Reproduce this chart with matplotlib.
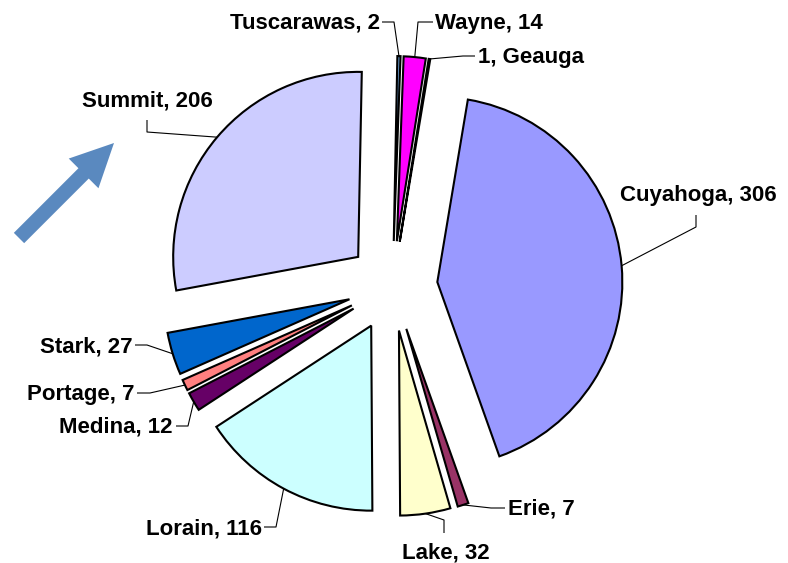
import numpy as np
import matplotlib
matplotlib.use("Agg")
import matplotlib.pyplot as plt
import matplotlib.patches as mpatches

# data (series order as in the sheet, drawn clockwise)
counties = ["Cuyahoga", "Erie", "Lake", "Lorain", "Medina", "Portage",
            "Stark", "Summit", "Tuscarawas", "Wayne", "Geauga"]
counts = [306, 7, 32, 116, 12, 7, 27, 206, 2, 14, 1]
colors = ["#9999FF", "#993366", "#FFFFCC", "#CCFFFF", "#660066", "#FF8080",
          "#0066CC", "#CCCCFF", "#6699CC", "#FF00FF", "#FFFFFF"]
label_text = ["Cuyahoga, 306", "Erie, 7", "Lake, 32", "Lorain, 116", "Medina, 12",
              "Portage, 7", "Stark, 27", "Summit, 206", "Tuscarawas, 2",
              "Wayne, 14", "1, Geauga"]

# label layout in pixel coords (y down): text x, baseline y, ha, leader start, elbow
label_pos = [
    (698, 201, "center", (696, 215), (696, 227)),
    (508, 515, "left", (505, 508), (491, 508)),
    (446, 559, "center", (444, 533), (444, 520)),
    (262, 534, "right", (264, 527), (276, 527)),
    (173, 433, "right", (176, 426), (188, 426)),
    (135, 400, "right", (137, 393), (150, 393)),
    (133, 352, "right", (135, 345), (147, 345)),
    (147, 107, "center", (147, 120), (147, 132)),
    (380, 29, "right", (382, 22), (394, 22)),
    (435, 29, "left", (433, 22), (418, 22)),
    (478, 63, "left", (475, 56), (463, 56)),
]

W, H = 788, 563
fig = plt.figure(figsize=(W / 100, H / 100), dpi=100)
ax = fig.add_axes([0, 0, 1, 1])

pie_center = (392.5, 286)
pie_r = 185
gap = 45
first_angle = 9.5  # degrees clockwise from 12 o'clock

# y axis is flipped, so counterclock=True draws clockwise on screen
wedges, _ = ax.pie(counts, colors=colors, center=pie_center, radius=pie_r,
                   explode=[gap] * len(counts), startangle=-90 + first_angle,
                   counterclock=True,
                   wedgeprops=dict(edgecolor="black", linewidth=1.5))

ax.set_xlim(0, W)
ax.set_ylim(H, 0)
ax.set_aspect("equal")
ax.axis("off")

for w, txt, (tx, ty, ha, start, elbow) in zip(wedges, label_text, label_pos):
    mid = np.deg2rad((w.theta1 + w.theta2) / 2)
    ax_pt = (w.center[0] + w.r * np.cos(mid), w.center[1] + w.r * np.sin(mid))
    ax.plot([start[0], elbow[0], ax_pt[0]], [start[1], elbow[1], ax_pt[1]],
            color="black", lw=0.8, solid_capstyle="butt")
    ax.text(tx, ty, txt, ha=ha, va="baseline", fontsize=16,
            fontweight="bold", family="Liberation Sans")

# blue arrow pointing to Summit
arrow = mpatches.FancyArrow(19, 238, 95, -95, width=14.6, head_width=42,
                            head_length=43, length_includes_head=True,
                            color="#5A89BF", lw=0)
ax.add_patch(arrow)

fig.savefig("out.png", dpi=100)
